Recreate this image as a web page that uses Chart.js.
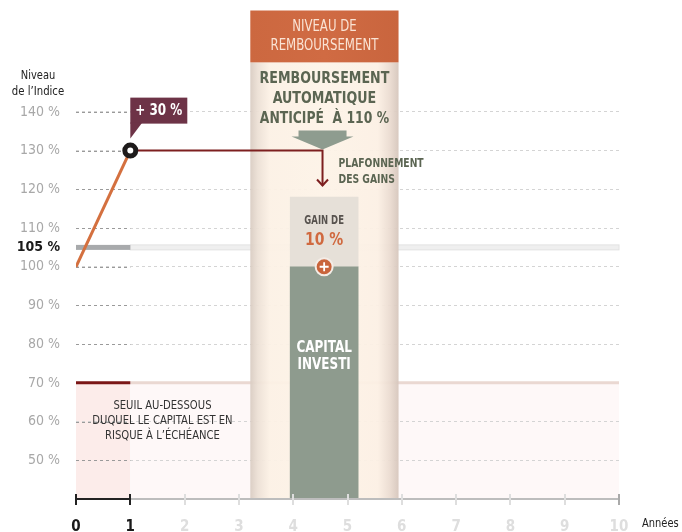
<!DOCTYPE html>
<html><head><meta charset="utf-8">
<script src="https://cdn.jsdelivr.net/npm/chart.js@4/dist/chart.umd.min.js"></script>
<style>html,body{margin:0;padding:0;background:#fff}#wrap{width:682px;height:532px;position:relative}</style>
</head><body><div id="wrap"><canvas id="c"></canvas></div>
<script>
// ---- data ----
const yearTicks = [0,1,2,3,4,5,6,7,8,9,10];
const levelTicks = [50,60,70,80,90,100,105,110,120,130,140];
const indexYears = [0, 1];
const indexValues = [100, 130];
const capYears = [1, 4.54, 4.54];
const capValues = [130, 130, 121];
const barYear = 4.57;
const capitalRange = [40, 100];
const gainRange = [100, 118];
const panelYears = [3.21, 5.94];
const panelLevels = [40, 166.2, 152.8]; // bottom, top, header bottom
const thresholdLevel = 70;
const bandLevel = 105;
const riseLabel = '+ 30 %';
const gainLabel = '10 %';

const F = '"Liberation Sans Narrow","DejaVu Sans Condensed","Roboto Condensed",sans-serif';
const pts = (xs, ys) => xs.map((x, i) => ({x, y: ys[i]}));
const tv = c => (c && c.tick) ? c.tick.value : null;

function txt(ctx, s, x, y, font, color, align, hs) {
  ctx.save();
  ctx.font = font; ctx.fillStyle = color; ctx.textAlign = align || 'center'; ctx.textBaseline = 'middle';
  ctx.translate(x, y); ctx.scale(hs || 1, 1); ctx.fillText(s, 0, 0);
  ctx.restore();
}

const deco = {
  id: 'deco',
  beforeDraw(chart) {
    const {ctx, chartArea: a, scales: {x, y}} = chart;
    ctx.save();
    const ty = y.getPixelForValue(thresholdLevel);
    const p0 = x.getPixelForValue(0), p1 = x.getPixelForValue(1), p10 = x.getPixelForValue(10);
    ctx.fillStyle = '#fcecea';
    ctx.fillRect(p0, ty, p1 - p0, a.bottom - ty);
    ctx.fillStyle = '#fef8f8';
    ctx.fillRect(p1, ty, p10 - p1, a.bottom - ty);
    ctx.lineWidth = 3;
    ctx.strokeStyle = '#ead8d2';
    ctx.beginPath(); ctx.moveTo(p1, ty); ctx.lineTo(p10, ty); ctx.stroke();
    ctx.strokeStyle = '#7b1616';
    ctx.beginPath(); ctx.moveTo(p0, ty); ctx.lineTo(p1, ty); ctx.stroke();
    const by = y.getPixelForValue(bandLevel);
    ctx.fillStyle = '#efefef';
    ctx.fillRect(p1, by - 2.5, p10 - p1, 5);
    ctx.strokeStyle = '#e2e2e2'; ctx.lineWidth = 1;
    ctx.strokeRect(p1, by - 2.5, p10 - p1, 5);
    ctx.fillStyle = '#a8aaac';
    ctx.fillRect(p0, by - 2.5, p1 - p0, 5);
    ctx.restore();
  },
  beforeDatasetsDraw(chart) {
    const {ctx, scales: {x, y}} = chart;
    ctx.save();
    ctx.strokeStyle = '#9a9a9a'; ctx.lineWidth = 1; ctx.setLineDash([3, 3]);
    levelTicks.forEach(v => {
      if (v === bandLevel || v === thresholdLevel) return;
      const py = Math.round(y.getPixelForValue(v)) + 0.5;
      ctx.beginPath(); ctx.moveTo(x.getPixelForValue(0), py); ctx.lineTo(x.getPixelForValue(1), py); ctx.stroke();
    });
    ctx.setLineDash([]);
    const x0 = x.getPixelForValue(panelYears[0]), x1 = x.getPixelForValue(panelYears[1]);
    const top = y.getPixelForValue(panelLevels[1]), hb = y.getPixelForValue(panelLevels[2]), bot = y.getPixelForValue(panelLevels[0]);
    const w = x1 - x0;
    const g = ctx.createLinearGradient(x0, 0, x1, 0);
    g.addColorStop(0, '#d9ccc2');
    g.addColorStop(0.05, '#ece0d5');
    g.addColorStop(0.13, '#fcf1e5');
    g.addColorStop(0.5, '#fdf3e7');
    g.addColorStop(0.86, '#fcf0e4');
    g.addColorStop(0.94, '#ebdcd1');
    g.addColorStop(1, '#d6c6bc');
    ctx.globalAlpha = 0.94;
    ctx.fillStyle = g;
    ctx.fillRect(x0, hb, w, bot - hb);
    ctx.globalAlpha = 1;
    const hg = ctx.createLinearGradient(x0, 0, x1, 0);
    hg.addColorStop(0, '#cc6840'); hg.addColorStop(0.5, '#d06b43'); hg.addColorStop(1, '#c9653e');
    ctx.fillStyle = hg;
    ctx.fillRect(x0, top, w, hb - top);
    ctx.restore();
  },
  afterDatasetsDraw(chart) {
    const {ctx, scales: {x, y}} = chart;
    const cx = (x.getPixelForValue(panelYears[0]) + x.getPixelForValue(panelYears[1])) / 2;
    const top = y.getPixelForValue(panelLevels[1]);
    ctx.save();
    txt(ctx, 'NIVEAU DE', cx, top + 17, '15px ' + F, '#fae3d4', 'center', 0.87);
    txt(ctx, 'REMBOURSEMENT', cx, top + 36, '15px ' + F, '#fae3d4', 'center', 0.87);
    txt(ctx, 'REMBOURSEMENT', cx, top + 68, 'bold 16px ' + F, '#5b6552', 'center', 0.88);
    txt(ctx, 'AUTOMATIQUE', cx, top + 88, 'bold 16px ' + F, '#5b6552', 'center', 0.88);
    txt(ctx, 'ANTICIPÉ  À 110 %', cx, top + 108, 'bold 16px ' + F, '#5b6552', 'center', 0.86);
    const ax = x.getPixelForValue(capYears[1]);
    ctx.fillStyle = '#8e9c8f';
    ctx.fillRect(ax - 24, top + 120, 48, 7);
    ctx.beginPath(); ctx.moveTo(ax - 31, top + 126); ctx.lineTo(ax + 31, top + 126); ctx.lineTo(ax, top + 139); ctx.closePath(); ctx.fill();
    const tipY = y.getPixelForValue(capValues[2]);
    ctx.strokeStyle = '#7d1f1f'; ctx.lineWidth = 2;
    ctx.beginPath(); ctx.moveTo(ax - 5.5, tipY - 6); ctx.lineTo(ax, tipY); ctx.lineTo(ax + 5.5, tipY - 6); ctx.stroke();
    const cy = y.getPixelForValue(capValues[0]);
    txt(ctx, 'PLAFONNEMENT', ax + 16, cy + 13, 'bold 12.5px ' + F, '#5b6552', 'left', 0.82);
    txt(ctx, 'DES GAINS', ax + 16, cy + 29, 'bold 12.5px ' + F, '#5b6552', 'left', 0.82);
    const bx = x.getPixelForValue(barYear);
    const gt = y.getPixelForValue(gainRange[1]);
    txt(ctx, 'GAIN DE', bx, gt + 24, 'bold 11.5px ' + F, '#57524e', 'center', 0.82);
    txt(ctx, gainLabel, bx, gt + 43, 'bold 18px ' + F, '#d0693f', 'center', 0.86);
    const ct = y.getPixelForValue(capitalRange[1]);
    txt(ctx, 'CAPITAL', bx, ct + 81, 'bold 15px ' + F, '#ffffff', 'center', 0.89);
    txt(ctx, 'INVESTI', bx, ct + 98, 'bold 15px ' + F, '#ffffff', 'center', 0.89);
    const py = y.getPixelForValue(gainRange[0]);
    ctx.beginPath(); ctx.arc(bx, py, 8.5, 0, Math.PI * 2);
    ctx.fillStyle = '#c9643b'; ctx.fill();
    ctx.lineWidth = 2; ctx.strokeStyle = '#f4ece6'; ctx.stroke();
    ctx.strokeStyle = '#ffffff'; ctx.lineWidth = 1.8;
    ctx.beginPath(); ctx.moveTo(bx - 4.5, py); ctx.lineTo(bx + 4.5, py); ctx.moveTo(bx, py - 4.5); ctx.lineTo(bx, py + 4.5); ctx.stroke();
    const lx = x.getPixelForValue(indexYears[1]), ly = y.getPixelForValue(indexValues[1]);
    ctx.fillStyle = '#6d3347';
    ctx.fillRect(lx, ly - 53, 57, 26);
    ctx.beginPath(); ctx.moveTo(lx, ly - 28); ctx.lineTo(lx + 12, ly - 28); ctx.lineTo(lx, ly - 12); ctx.closePath(); ctx.fill();
    txt(ctx, riseLabel, lx + 28.5, ly - 40, 'bold 15px ' + F, '#ffffff', 'center', 0.89);
    const sx = (x.getPixelForValue(0) + x.getPixelForValue(3)) / 2 + 5;
    const sy = y.getPixelForValue(thresholdLevel);
    txt(ctx, 'SEUIL AU-DESSOUS', sx, sy + 23, '12px ' + F, '#333333', 'center', 0.93);
    txt(ctx, 'DUQUEL LE CAPITAL EST EN', sx, sy + 38, '12px ' + F, '#333333', 'center', 0.93);
    txt(ctx, 'RISQUE À L\u2019ÉCHÉANCE', sx, sy + 53, '12px ' + F, '#333333', 'center', 0.93);
    txt(ctx, 'Niveau', 38, 76, '12.5px ' + F, '#222222', 'center', 0.88);
    txt(ctx, 'de l\u2019Indice', 38, 92, '12.5px ' + F, '#222222', 'center', 0.9);
    txt(ctx, 'Années', 642, 524, '12.5px ' + F, '#222222', 'left', 0.88);
    ctx.restore();
  },
  afterDraw(chart) {
    const {ctx, chartArea: a, scales: {x}} = chart;
    const yb = a.bottom;
    ctx.save();
    ctx.lineWidth = 2;
    ctx.strokeStyle = '#bdbdbd';
    ctx.beginPath(); ctx.moveTo(x.getPixelForValue(1), yb); ctx.lineTo(x.getPixelForValue(10), yb); ctx.stroke();
    ctx.strokeStyle = '#222';
    ctx.beginPath(); ctx.moveTo(x.getPixelForValue(0), yb); ctx.lineTo(x.getPixelForValue(1), yb); ctx.stroke();
    yearTicks.forEach(v => {
      const px = Math.round(x.getPixelForValue(v));
      ctx.strokeStyle = v <= 1 ? '#222' : (v === 10 ? '#aaa' : '#dedede');
      ctx.beginPath(); ctx.moveTo(px, yb - 5); ctx.lineTo(px, yb + 6); ctx.stroke();
    });
    ctx.restore();
  }
};

new Chart(document.getElementById('c'), {
  type: 'scatter',
  data: {
    datasets: [
      {type: 'scatter', data: [{x: indexYears[1], y: indexValues[1]}], pointRadius: 5.5, borderWidth: 5, borderColor: '#1e1b1b', backgroundColor: '#ffffff', order: 1},
      {type: 'line', data: pts(indexYears, indexValues), borderColor: '#d4703f', borderWidth: 3, pointRadius: 0, fill: false, order: 3},
      {type: 'line', data: pts(capYears, capValues), borderColor: '#7d1f1f', borderWidth: 2, pointRadius: 0, fill: false, borderJoinStyle: 'miter', order: 2},
      {type: 'bar', data: [{x: barYear, y: capitalRange}], backgroundColor: '#8e9b8e', barThickness: 68, grouped: false, borderWidth: 0, order: 6},
      {type: 'bar', data: [{x: barYear, y: gainRange}], backgroundColor: '#e6e0d8', barThickness: 68, grouped: false, borderWidth: 0, order: 7}
    ]
  },
  options: {
    responsive: true, maintainAspectRatio: false, animation: false, events: [],
    layout: {padding: {top: 10, right: 63, left: 0, bottom: 0}},
    plugins: {legend: {display: false}, tooltip: {enabled: false}},
    scales: {
      x: {
        type: 'linear', min: 0, max: 10, offset: false,
        afterBuildTicks: s => { s.ticks = yearTicks.map(v => ({value: v})); },
        afterFit: s => { s.height = 33; },
        grid: {display: false, offset: false}, border: {display: false},
        ticks: {
          padding: 11,
          color: c => (tv(c) !== null && tv(c) <= 1) ? '#1a1a1a' : '#dedede',
          font: {family: F, size: 15, weight: 'bold'},
          callback: v => String(v)
        }
      },
      y: {
        type: 'linear', min: 40, max: 166.2,
        afterBuildTicks: s => { s.ticks = levelTicks.map(v => ({value: v})); },
        afterFit: s => { s.width = 76; s.paddingTop = 0; s.paddingBottom = 0; },
        grid: {
          drawTicks: false,
          color: c => (tv(c) === bandLevel || tv(c) === thresholdLevel) ? 'rgba(0,0,0,0)' : '#d4d4d4'
        },
        border: {display: false, dash: [3, 3]},
        ticks: {
          padding: 16,
          color: c => tv(c) === bandLevel ? '#1a1a1a' : '#a8a8a8',
          font: c => ({family: F, size: 14, weight: tv(c) === bandLevel ? 'bold' : 'normal'}),
          callback: v => v + ' %'
        }
      }
    }
  },
  plugins: [deco]
});
</script>
</body></html>
